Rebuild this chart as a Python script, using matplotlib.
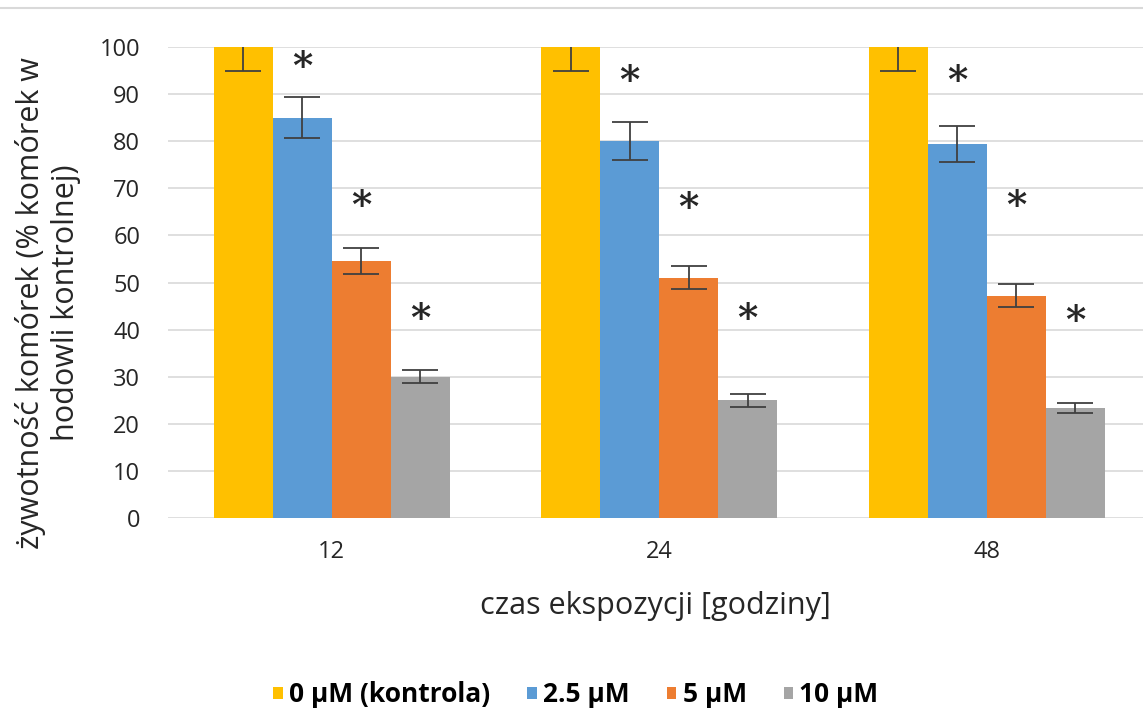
import matplotlib
matplotlib.use('Agg')
import matplotlib.pyplot as plt
from matplotlib.lines import Line2D
import numpy as np

plt.rcParams['font.family'] = ['Open Sans', 'DejaVu Sans']

# dane
czas = ['12', '24', '48']
serie = ['0 µM (kontrola)', '2.5 µM', '5 µM', '10 µM']
kontrola = [100, 100, 100]
c25 = [85, 80, 79.4]
c5 = [54.5, 51, 47.2]
c10 = [30, 25, 23.3]
sd_kontrola = [5, 5, 5]
sd_c25 = [4.3, 4, 3.9]
sd_c5 = [2.8, 2.4, 2.5]
sd_c10 = [1.4, 1.4, 1.1]
# wysokosc gwiazdek (istotnosc)
gw_c25 = [97, 94, 94]
gw_c5 = [67.5, 67, 67.5]
gw_c10 = [43.6, 43.6, 43.1]

kolory = ['#FFC000', '#5B9BD5', '#ED7D31', '#A5A5A5']
tekst = '#262626'

W, H = 1143, 715
fig = plt.figure(figsize=(W / 100, H / 100), dpi=100)
ax = fig.add_axes([168 / W, 1 - 518 / H, (W - 168) / W, (518 - 47) / H])

x = np.arange(len(czas))
w = 0.18
wartosci = [kontrola, c25, c5, c10]
bledy = [sd_kontrola, sd_c25, sd_c5, sd_c10]
gwiazdki = [None, gw_c25, gw_c5, gw_c10]

uchwyty = []
for i in range(4):
    pos = x + (i - 1.5) * w
    b = ax.bar(pos, wartosci[i], w, color=kolory[i], label=serie[i], zorder=2,
               yerr=bledy[i], error_kw=dict(ecolor='#404040', elinewidth=1.3,
                                            capsize=13, capthick=1.3, zorder=3))
    uchwyty.append(b)
    if gwiazdki[i] is not None:
        for xx, yy in zip(pos, gwiazdki[i]):
            ax.annotate('*', (xx, yy), xytext=(0, -5), textcoords='offset points',
                        ha='center', va='center', fontsize=28, fontweight='bold',
                        family='DejaVu Serif', color=tekst)

ax.set_ylim(0, 100)
ax.set_xlim(-0.5, -0.5 + 975 / 327.5)
ax.set_yticks(range(0, 101, 10))
ax.set_xticks(x)
ax.set_xticklabels(czas)
ax.yaxis.grid(True, color='#D9D9D9', linewidth=1.2, zorder=0)
ax.set_axisbelow(True)
for s in ax.spines.values():
    s.set_visible(False)
ax.tick_params(length=0, labelsize=17, colors=tekst, pad=20)
ax.tick_params(axis='x', pad=16)

ax.set_xlabel('czas ekspozycji [godziny]', fontsize=22, color=tekst, labelpad=19)
fig.text(48 / W, 1 - 303 / H, 'żywotność komórek (% komórek w\nhodowli kontrolnej)',
         rotation=90, ha='center', va='center', fontsize=22, color=tekst,
         linespacing=1.2, multialignment='center')

fig.add_artist(Line2D([0, 1], [1 - 8 / H, 1 - 8 / H], color='#D9D9D9', linewidth=1.5))

fig.legend(handles=uchwyty, labels=serie, loc='center', bbox_to_anchor=(576 / W, 1 - 695 / H),
           ncol=4, frameon=False, handlelength=0.35, handleheight=0.35, handletextpad=0.25,
           columnspacing=1.4, prop=dict(weight='bold', size=19))

fig.savefig('out.png', dpi=100)
